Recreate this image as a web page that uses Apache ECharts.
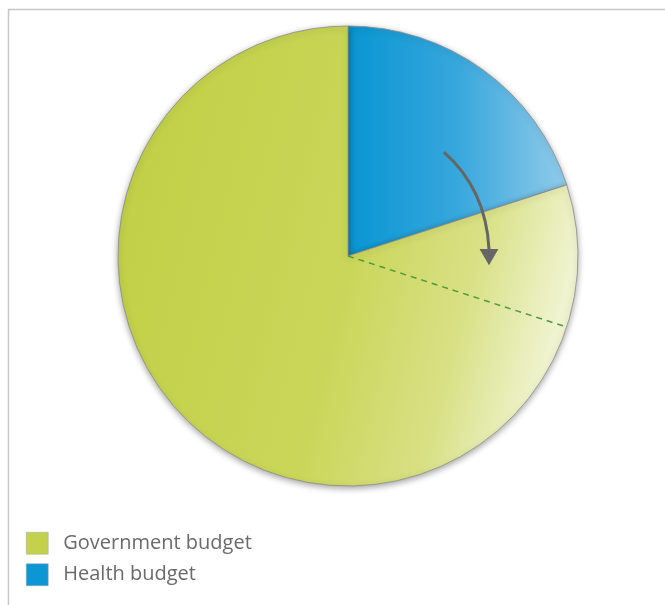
<!DOCTYPE html>
<html><head><meta charset="utf-8">
<script src="https://cdn.jsdelivr.net/npm/echarts@6/dist/echarts.min.js"></script>
<style>html,body{margin:0;padding:0;background:#fff}#c{width:665px;height:605px}</style>
</head><body><div id="c"></div>
<script>
const categories = ['Health budget', 'Government budget'];
const shares = [20, 80];
const legendOrder = ['Government budget', 'Health budget'];
const targetShare = 30; // dashed marker position (percent of the pie, clockwise from top)

const W = 665, H = 605;
const cx = 348, cy = 256, R = 230;

const chart = echarts.init(document.getElementById('c'), null, {renderer: 'canvas'});

const gradGov = new echarts.graphic.LinearGradient(0, 0.2, 1, 0.45, [
  {offset: 0, color: '#c0cf45'},
  {offset: 0.55, color: '#cad659'},
  {offset: 0.8, color: '#d8e084'},
  {offset: 1, color: '#eff3cf'}
]);
const gradHealth = new echarts.graphic.LinearGradient(0, 0, 1, 0, [
  {offset: 0, color: '#0895d2'},
  {offset: 0.5, color: '#37a7dc'},
  {offset: 1, color: '#92cbea'}
]);
const colors = {'Health budget': gradHealth, 'Government budget': gradGov};
const legendColors = {'Health budget': '#0c96d4', 'Government budget': '#c3d14c'};

// dashed marker line from center to edge at targetShare
const total = shares.reduce((a, b) => a + b, 0);
const ang = targetShare / total * 2 * Math.PI; // clockwise from top
const ex = cx + R * Math.sin(ang), ey = cy - R * Math.cos(ang);

// curved arrow (relative to pie center / radius)
const p = (fx, fy) => [cx + fx * R, cy + fy * R];
const a0 = p(0.417, -0.452), a1 = p(0.60, -0.29), a2 = p(0.613, -0.03);
const tip = p(0.613, 0.04), hb1 = p(0.572, -0.03), hb2 = p(0.654, -0.03);

chart.setOption({
  animation: false,
  backgroundColor: '#fff',
  legend: {
    orient: 'vertical', left: 21, top: 527,
    itemWidth: 22, itemHeight: 22, itemGap: 9, icon: 'rect',
    textStyle: {fontSize: 20, color: '#6a6a6a', fontFamily: 'Open Sans', padding: [0, 0, 0, 10]},
    data: legendOrder.map(n => ({name: n, itemStyle: {color: legendColors[n], borderColor: '#9aa', borderWidth: 0.5}}))
  },
  graphic: [
    {type: 'rect', shape: {x: 8.5, y: 9.5, width: 700, height: 700}, style: {fill: 'none', stroke: '#c8c8c8', lineWidth: 1.5}, z: -10},
    {type: 'line', shape: {x1: cx, y1: cy, x2: ex, y2: ey}, style: {stroke: '#4f9a3c', lineWidth: 1.5, lineDash: [6, 5]}, z: 100},
    {type: 'bezierCurve', shape: {x1: a0[0], y1: a0[1], cpx1: a1[0], cpy1: a1[1], x2: a2[0], y2: a2[1]}, style: {stroke: '#666', lineWidth: 3, fill: 'none'}, z: 101},
    {type: 'polygon', shape: {points: [tip, hb1, hb2]}, style: {fill: '#666'}, z: 101}
  ],
  series: [{
    type: 'pie',
    center: [cx / W * 100 + '%', cy / H * 100 + '%'],
    radius: [0, R],
    startAngle: 90,
    clockwise: true,
    label: {show: false}, labelLine: {show: false},
    emphasis: {disabled: true},
    silent: true,
    itemStyle: {borderColor: '#8a8a8a', borderWidth: 0.8, shadowBlur: 6, shadowColor: 'rgba(0,0,0,0.35)', shadowOffsetY: 2},
    data: categories.map((c, i) => ({name: c, value: shares[i], itemStyle: {color: colors[c]}}))
  }]
});
</script></body></html>
